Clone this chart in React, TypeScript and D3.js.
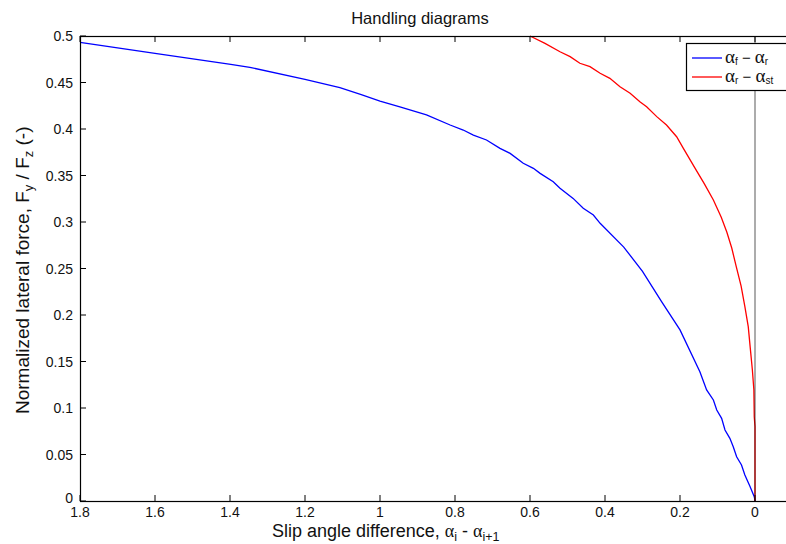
import React from "react";
import * as d3 from "d3";

// slip angle difference (x) and normalized lateral force (y)
const frontRearX = [1.8, 1.6, 1.398, 1.347, 1.2, 1.107, 1.05, 1.0, 0.947, 0.876, 0.813, 0.778, 0.751, 0.716, 0.68, 0.653, 0.618, 0.591, 0.573, 0.538, 0.52, 0.485, 0.458, 0.431, 0.413, 0.35, 0.3, 0.25, 0.2, 0.147, 0.129, 0.111, 0.102, 0.089, 0.08, 0.067, 0.058, 0.049, 0.036, 0.027, 0.013, 0.002, 0];
const frontRearY = [0.4932, 0.4814, 0.4696, 0.4663, 0.4534, 0.4444, 0.437, 0.4301, 0.4237, 0.4151, 0.4043, 0.3989, 0.3935, 0.3882, 0.3792, 0.3738, 0.3631, 0.3577, 0.3523, 0.3433, 0.3362, 0.3254, 0.3147, 0.3075, 0.2986, 0.273, 0.247, 0.215, 0.184, 0.139, 0.1194, 0.1086, 0.0978, 0.0889, 0.0763, 0.0674, 0.0584, 0.0476, 0.0387, 0.028, 0.0154, 0.0046, 0];

const rearSteerX = [0.6, 0.56, 0.52, 0.493, 0.467, 0.44, 0.413, 0.387, 0.36, 0.333, 0.307, 0.289, 0.262, 0.236, 0.209, 0.191, 0.16, 0.135, 0.111, 0.09, 0.075, 0.062, 0.05, 0.037, 0.027, 0.018, 0.013, 0.007, 0.003, 0.002, 0, 0];
const rearSteerY = [0.5, 0.492, 0.4831, 0.4778, 0.4707, 0.467, 0.4599, 0.4545, 0.4455, 0.4384, 0.4294, 0.424, 0.4133, 0.4043, 0.3917, 0.3792, 0.358, 0.341, 0.3237, 0.305, 0.289, 0.272, 0.252, 0.231, 0.209, 0.1875, 0.166, 0.1409, 0.1194, 0.0906, 0.08, 0];

const xTicks = [1.8, 1.6, 1.4, 1.2, 1, 0.8, 0.6, 0.4, 0.2, 0];
const yTicks = [0, 0.05, 0.1, 0.15, 0.2, 0.25, 0.3, 0.35, 0.4, 0.45, 0.5];

const width = 786;
const height = 544;
const margin = { top: 36, right: -44, bottom: 43, left: 80 };

export default function App() {
  const x = d3
    .scaleLinear()
    .domain([1.8, -0.2])
    .range([margin.left, width - margin.right]);
  const y = d3
    .scaleLinear()
    .domain([0, 0.5])
    .range([height - margin.bottom, margin.top]);

  const line = d3
    .line<[number, number]>()
    .x((d) => x(d[0]))
    .y((d) => y(d[1]));

  const blue = line(frontRearX.map((v, i) => [v, frontRearY[i]]));
  const red = line(rearSteerX.map((v, i) => [v, rearSteerY[i]]));

  const x0 = margin.left;
  const x1 = width - margin.right;
  const y0 = height - margin.bottom;
  const y1 = margin.top;
  const font = "'Liberation Sans', Arial, sans-serif";
  const greek = "'Liberation Serif', 'DejaVu Serif', serif";

  return (
    <svg
      width={width}
      height={height}
      style={{ position: "absolute", left: 0, top: 0, background: "#fff" }}
      fontFamily={font}
    >
      <rect x={0} y={0} width={width} height={height} fill="#fff" />
      <path d={blue ?? ""} fill="none" stroke="#0000ff" strokeWidth={1.3} />
      <path d={red ?? ""} fill="none" stroke="#ff0000" strokeWidth={1.3} />
      {/* zero line */}
      <line x1={x(0)} x2={x(0)} y1={y1} y2={y0} stroke="#000" strokeOpacity={0.5} strokeWidth={1.3} />

      {/* box */}
      <rect x={x0 + 0.5} y={y1 + 0.5} width={x1 - x0} height={y0 - y1} fill="none" stroke="#000" strokeWidth={1.2} />

      {xTicks.map((t) => (
        <g key={"x" + t}>
          <line x1={x(t)} x2={x(t)} y1={y0} y2={y0 - 6} stroke="#000" />
          <line x1={x(t)} x2={x(t)} y1={y1} y2={y1 + 6} stroke="#000" />
          <text x={x(t)} y={y0 + 16} fontSize={14} textAnchor="middle" fill="#111">
            {d3.format("")(t)}
          </text>
        </g>
      ))}
      {yTicks.map((t) => (
        <g key={"y" + t}>
          <line x1={x0} x2={x0 + 6} y1={y(t)} y2={y(t)} stroke="#000" />
          <text x={x0 - 7} y={y(t) + (t === 0 ? 2 : 5)} fontSize={14} textAnchor="end" fill="#111">
            {d3.format("")(t)}
          </text>
        </g>
      ))}

      {/* title */}
      <text x={420} y={24} fontSize={16.5} textAnchor="middle" fill="#111">
        Handling diagrams
      </text>

      {/* x label */}
      <text x={272} y={537} fontSize={18} textAnchor="start" fill="#111">
        Slip angle difference,{" "}
        <tspan fontFamily={greek} fontSize={18}>α</tspan>
        <tspan fontSize={12.5} dy={4}>i</tspan>
        <tspan dy={-4}> - </tspan>
        <tspan fontFamily={greek} fontSize={18}>α</tspan>
        <tspan fontSize={12.5} dy={4}>i+1</tspan>
      </text>

      {/* y label */}
      <text
        transform={`translate(29,414) rotate(-90)`}
        fontSize={19}
        textAnchor="start"
        fill="#111"
      >
        Normalized lateral force, F
        <tspan fontSize={13} dy={4}>y</tspan>
        <tspan dy={-4}> / F</tspan>
        <tspan fontSize={13} dy={4}>z</tspan>
        <tspan dy={-4}> (-)</tspan>
      </text>

      {/* legend */}
      <rect x={686.5} y={43.5} width={120} height={47} fill="#fff" stroke="#000" strokeWidth={1.2} />
      <line x1={692} x2={722} y1={58} y2={58} stroke="#0000ff" strokeWidth={1.3} />
      <line x1={692} x2={722} y1={77} y2={77} stroke="#ff0000" strokeWidth={1.3} />
      <text x={725} y={63} fontSize={15} fill="#111">
        <tspan fontFamily={greek} fontSize={19}>α</tspan>
        <tspan fontSize={10} dy={2}>f</tspan>
        <tspan dy={-2}> − </tspan>
        <tspan fontFamily={greek} fontSize={19}>α</tspan>
        <tspan fontSize={10} dy={2}>r</tspan>
      </text>
      <text x={725} y={82} fontSize={15} fill="#111">
        <tspan fontFamily={greek} fontSize={19}>α</tspan>
        <tspan fontSize={10} dy={2}>r</tspan>
        <tspan dy={-2}> − </tspan>
        <tspan fontFamily={greek} fontSize={19}>α</tspan>
        <tspan fontSize={10} dy={2}>st</tspan>
      </text>
    </svg>
  );
}
